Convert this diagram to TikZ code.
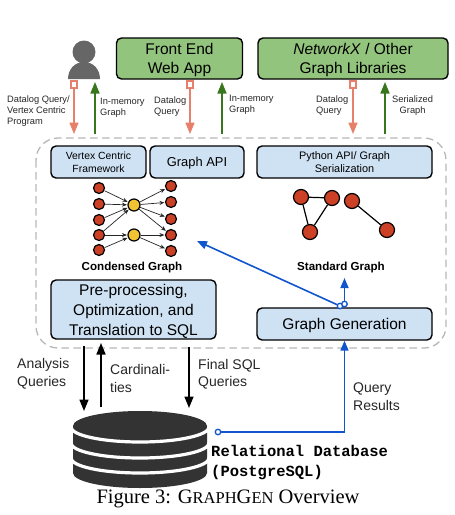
\documentclass[tikz,border=0pt]{standalone}
\usepackage{fontspec}
\setmainfont{Liberation Sans}
\newfontfamily\capfont{Liberation Serif}
\newfontfamily\dbfont{Liberation Mono}
\usetikzlibrary{arrows.meta}
\definecolor{boxgreen}{HTML}{93C47D}
\definecolor{boxblue}{HTML}{CFE2F3}
\definecolor{arrowpink}{HTML}{E6806B}
\definecolor{arrowgreen}{HTML}{38761D}
\definecolor{linkblue}{HTML}{1155CC}
\definecolor{vertexred}{HTML}{CC4125}
\definecolor{vertexyellow}{HTML}{F1C232}
\definecolor{dashgray}{HTML}{B7B7B7}
\definecolor{inkdark}{HTML}{333333}
\newcommand{\fs}[2]{\fontsize{#1}{#2}\selectfont}
\tikzset{
  greenbox/.style={draw=black,line width=1.4pt,fill=boxgreen,rounded corners=5pt,inner sep=0pt,align=center,text depth=0pt,font=\fs{15.5}{19}},
  bluebox/.style={draw=black,line width=1.4pt,fill=boxblue,rounded corners=5pt,inner sep=0pt,align=center,text depth=0pt},
  smalllabel/.style={inner sep=0pt,align=left,anchor=west,yshift=-1pt,text=black!85,font=\fs{9.3}{11}},
  biglabel/.style={inner sep=0pt,align=left,anchor=west,yshift=-1.2pt,text=black!85,font=\fs{14}{17.5}},
  graphlabel/.style={inner sep=0pt,yshift=-1pt,font=\fs{11.6}{13}\bfseries},
  redvertex/.style={circle,draw=black,line width=1.2pt,fill=vertexred,inner sep=0pt,minimum size=#1},
  yellowvertex/.style={circle,draw=black,line width=1.2pt,fill=vertexyellow,inner sep=0pt,minimum size=12pt},
  pinksquare/.style={draw=arrowpink,line width=1.6pt,fill=white,inner sep=0pt,minimum size=6.5pt},
  pinkarrow/.style={draw=arrowpink,line width=1.7pt,-{Triangle[length=11.5pt,width=9pt]}},
  greenarrow/.style={draw=arrowgreen,line width=1.7pt,-{Triangle[length=11.5pt,width=9pt]}},
  blackarrow/.style={draw=black,line width=1.7pt,-{Triangle[length=11.5pt,width=9pt]}},
  bluearrow/.style={draw=linkblue,line width=1.6pt,-{Triangle[length=10pt,width=8pt]}},
  bluedot/.style={circle,draw=linkblue,line width=1.3pt,fill=white,inner sep=0pt,minimum size=5.5pt},
  thinedge/.style={draw=black!85,line width=0.7pt,-{Stealth[length=5pt,width=4pt]},shorten >=0.5pt},
  plainedge/.style={draw=black,line width=1.2pt}
}
\begin{document}
\begin{tikzpicture}[x=1pt,y=-1pt]
  \useasboundingbox (0,0) rectangle (455,515);

  % person
  \fill[black!60] (84,52) circle (11.5);
  \fill[black!60] (68,79) .. controls (68,69) and (75,62) .. (84,62) .. controls (93,62) and (100,69) .. (100,79) -- cycle;

  % top boxes
  \node[greenbox,minimum width=126pt,minimum height=41pt] (webapp) at (179.5,58.5) {Front End\\Web App};
  \node[greenbox,minimum width=190pt,minimum height=41pt] (libs) at (353,58.5) {\textit{NetworkX} / Other\\Graph Libraries};

  % dashed frame
  \draw[dashgray,line width=1.3pt,dash pattern=on 7.5pt off 4.5pt,rounded corners=22pt] (36,138) rectangle (446,348);

  % api boxes
  \node[bluebox,minimum width=95pt,minimum height=32pt,font=\fs{10.4}{13}] (vcf) at (98.5,162) {Vertex Centric\\Framework};
  \node[bluebox,minimum width=94pt,minimum height=32pt,font=\fs{12.9}{15}] (gapi) at (197,162) {Graph API};
  \node[bluebox,minimum width=175pt,minimum height=32pt,font=\fs{10.9}{13.5}] (pyapi) at (344.5,162) {Python API/ Graph\\Serialization};
  \node[bluebox,minimum width=165pt,minimum height=59pt,text depth=-3pt,font=\fs{15.5}{20}] (prep) at (133.5,309.5) {Pre-processing,\\Optimization, and\\Translation to SQL};
  \node[bluebox,minimum width=175pt,minimum height=32pt,font=\fs{15.5}{19}] (ggen) at (344.5,324) {Graph Generation};

  % user arrows
  \foreach \nm/\xp in {qa/74,qb/190,qc/353} {
    \node[pinksquare] (\nm) at (\xp,84.5) {};
    \coordinate (\nm end) at (\xp,134);
    \draw[pinkarrow] (\nm) -- (\nm end);
  }
  \foreach \nm/\xp in {ra/95,rb/222,rc/385} {
    \coordinate (\nm from) at (\xp,134);
    \coordinate (\nm to) at (\xp,82);
    \draw[greenarrow] (\nm from) -- (\nm to);
  }
  \node[smalllabel] (lqa) at (7,110) {Datalog Query/\\Vertex Centric\\Program};
  \node[smalllabel] (lra) at (100,107) {In-memory\\Graph};
  \node[smalllabel] (lqb) at (154,105.5) {Datalog\\Query};
  \node[smalllabel] (lrb) at (229,104) {In-memory\\Graph};
  \node[smalllabel] (lqc) at (316,105) {Datalog\\Query};
  \node[smalllabel,align=center] (lrc) at (392,105) {Serialized\\Graph};

  % condensed graph
  \foreach \i/\yp in {1/188,2/204,3/220,4/235,5/250}
    \node[redvertex=11pt] (l\i) at (99,\yp) {};
  \foreach \i/\yp in {1/186,2/202,3/219,4/235,5/251}
    \node[redvertex=11pt] (r\i) at (171,\yp) {};
  \node[yellowvertex] (m1) at (134,205) {};
  \node[yellowvertex] (m2) at (134,235) {};
  \foreach \a/\b in {l1/m1,l2/m1,l3/m1,l4/m1,l4/m2,l5/m2,m1/r1,m1/r2,m1/r3,m1/r4,m2/r4,m2/r5}
    \draw[thinedge] (\a) -- (\b);
  \node[graphlabel] (cglabel) at (132,266) {Condensed Graph};

  % standard graph
  \node[redvertex=15pt] (sa) at (301,197) {};
  \node[redvertex=15pt] (sb) at (332,198) {};
  \node[redvertex=15pt] (sc) at (310,232) {};
  \node[redvertex=15pt] (sd) at (352,201) {};
  \node[redvertex=15pt] (se) at (387,230) {};
  \foreach \a/\b in {sa/sb,sa/sc,sb/sc,sd/se}
    \draw[plainedge] (\a) -- (\b);
  \node[graphlabel] (sglabel) at (341,266) {Standard Graph};

  % blue links
  \node[bluedot] (gga) at (340,306) {};
  \node[bluedot] (ggb) at (344.5,304) {};
  \coordinate (ccto) at (197,241);
  \coordinate (ssto) at (344.5,278);
  \draw[bluearrow] (gga) -- (ccto);
  \draw[bluearrow] (ggb) -- (ssto);

  % database
  \fill[inkdark] (73,426) arc[start angle=180,end angle=360,x radius=67,y radius=15] -- (207,473) arc[start angle=0,end angle=180,x radius=67,y radius=15] -- cycle;
  \foreach \yp in {427,443,458}
    \draw[white,line width=3.2pt] (71,\yp) arc[start angle=180,end angle=0,x radius=69,y radius=15];
  \node[bluedot] (dbdot) at (218,432) {};
  \draw[bluearrow] (dbdot) -- (ggen.south |- dbdot) -- (ggen.south);
  \coordinate (aqa) at (84,346); \coordinate (aqb) at (84,411);
  \coordinate (cra) at (101,407); \coordinate (crb) at (101,343);
  \coordinate (fqa) at (189,347); \coordinate (fqb) at (189,408);
  \draw[blackarrow] (aqa) -- (aqb);
  \draw[blackarrow] (cra) -- (crb);
  \draw[blackarrow] (fqa) -- (fqb);
  \node[biglabel] (lan) at (17,372.5) {Analysis\\Queries};
  \node[biglabel] (lcd) at (110,377.5) {Cardinali-\\ties};
  \node[biglabel] (lfs) at (198,373) {Final SQL\\Queries};
  \node[biglabel] (lqr) at (353,395.5) {Query\\Results};
  \node[inner sep=0pt,anchor=west,align=left,font=\dbfont\bfseries\fs{15.5}{20}] (dblabel) at (211,462.5) {Relational Database\\(PostgreSQL)};

  % caption
  \node[inner sep=0pt,font=\capfont\fs{20.5}{22}] (caption) at (228,498.5) {Figure 3: G{\fs{16.5}{22}RAPH}G{\fs{16.5}{22}EN} Overview};
\end{tikzpicture}
\end{document}
